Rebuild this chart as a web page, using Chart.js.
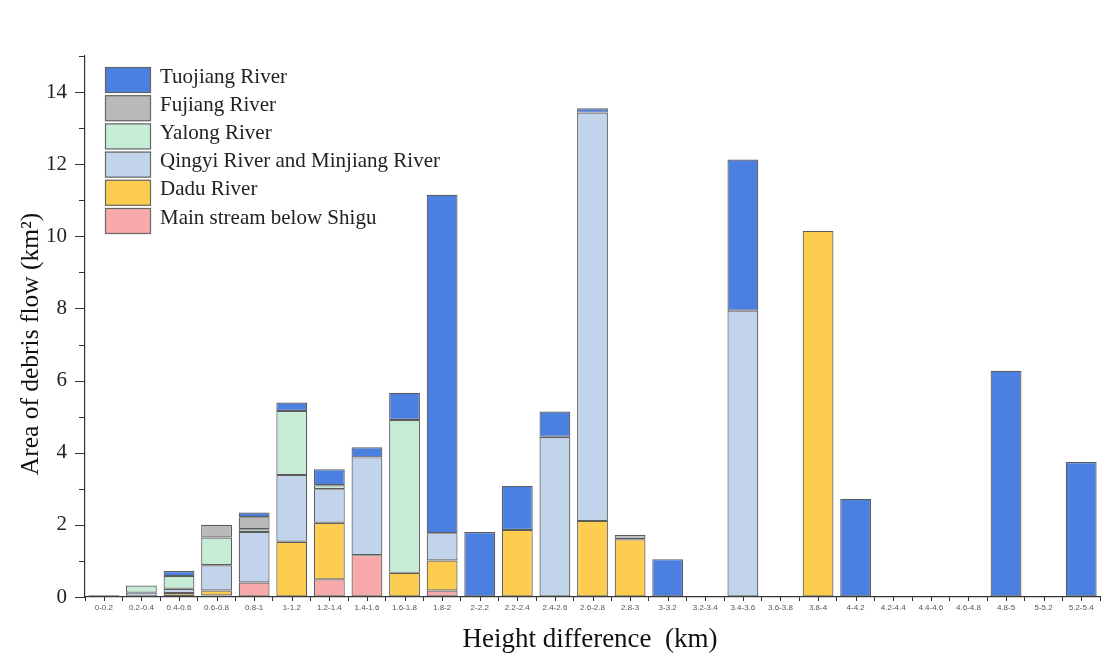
<!DOCTYPE html>
<html>
<head>
<meta charset="utf-8">
<script src="https://cdn.jsdelivr.net/npm/chart.js@4/dist/chart.umd.min.js"></script>
<style>
  html, body { margin: 0; padding: 0; background: #fff; }
  #wrap { width: 1119px; height: 654px; position: relative; }
</style>
</head>
<body>
<div id="wrap"><canvas id="barChart" width="1119" height="654"></canvas></div>
<script>
var categories = ['0-0.2', '0.2-0.4', '0.4-0.6', '0.6-0.8', '0.8-1', '1-1.2', '1.2-1.4', '1.4-1.6', '1.6-1.8', '1.8-2',
    '2-2.2', '2.2-2.4', '2.4-2.6', '2.6-2.8', '2.8-3', '3-3.2', '3.2-3.4', '3.4-3.6', '3.6-3.8', '3.8-4',
    '4-4.2', '4.2-4.4', '4.4-4.6', '4.6-4.8', '4.8-5', '5-5.2', '5.2-5.4'];

// stacked bottom to top
var mainStream = [0, 0, 0.03, 0.04, 0.4, 0, 0.49, 1.16, 0, 0.18, 0, 0, 0, 0, 0, 0, 0, 0, 0, 0, 0, 0, 0, 0, 0, 0, 0];
var dadu = [0, 0, 0.08, 0.14, 0, 1.53, 1.57, 0, 0.67, 0.83, 0, 1.86, 0, 2.11, 1.6, 0, 0, 0, 0, 10.15, 0, 0, 0, 0, 0, 0, 0];
var qingyi = [0.05, 0.12, 0.12, 0.7, 1.4, 1.85, 0.93, 2.71, 0, 0.76, 0, 0, 4.44, 11.32, 0, 0, 0, 7.94, 0, 0, 0, 0, 0, 0, 0, 0, 0];
var yalong = [0, 0.2, 0.35, 0.77, 0.08, 1.78, 0.11, 0, 4.24, 0, 0, 0, 0, 0, 0, 0, 0, 0, 0, 0, 0, 0, 0, 0, 0, 0, 0];
var fujiang = [0, 0, 0, 0.35, 0.33, 0, 0, 0, 0, 0, 0, 0, 0, 0, 0.12, 0, 0, 0, 0, 0, 0, 0, 0, 0, 0, 0, 0];
var tuojiang = [0, 0, 0.14, 0, 0.13, 0.23, 0.44, 0.28, 0.75, 9.38, 1.8, 1.22, 0.7, 0.12, 0, 1.05, 0, 4.19, 0, 0, 2.72, 0, 0, 0, 6.27, 0, 3.74];

var yTicks = [0, 2, 4, 6, 8, 10, 12, 14];

var series = [
    { label: 'Main stream below Shigu', data: mainStream, color: '#f8a9ab' },
    { label: 'Dadu River', data: dadu, color: '#fccd4e' },
    { label: 'Qingyi River and Minjiang River', data: qingyi, color: '#c1d4ec' },
    { label: 'Yalong River', data: yalong, color: '#c6ecd6' },
    { label: 'Fujiang River', data: fujiang, color: '#bababa' },
    { label: 'Tuojiang River', data: tuojiang, color: '#4b7fe0' }
];

var serif = "'Liberation Serif', 'DejaVu Serif', serif";

// legend drawn inside the plot, top-left, topmost series first
var boxLegend = {
    id: 'boxLegend',
    afterDraw: function (chart) {
        var ctx = chart.ctx;
        var items = chart.data.datasets.slice().reverse();
        ctx.save();
        ctx.font = '21px ' + serif;
        ctx.textBaseline = 'middle';
        items.forEach(function (ds, i) {
            var y = 67 + i * 28.2;
            ctx.fillStyle = ds.backgroundColor;
            ctx.fillRect(105, y, 46, 26);
            ctx.strokeStyle = '#666';
            ctx.lineWidth = 1.2;
            ctx.strokeRect(105.5, y + 0.5, 45, 25);
            ctx.fillStyle = '#222';
            ctx.fillText(ds.label, 160, y + 10);
        });
        ctx.restore();
    }
};

// tick marks (centre ticks on x, major/minor on y) and both axis titles
var axisExtras = {
    id: 'axisExtras',
    afterDraw: function (chart) {
        var ctx = chart.ctx;
        var x = chart.scales.x;
        var y = chart.scales.y;
        ctx.save();
        ctx.strokeStyle = '#333';
        ctx.lineWidth = 1;
        categories.forEach(function (c, i) {
            var px = Math.round(x.getPixelForValue(i)) + 0.5;
            ctx.beginPath();
            ctx.moveTo(px, x.top);
            ctx.lineTo(px, x.top + 4);
            ctx.stroke();
        });
        for (var v = 0; v <= 15; v++) {
            var py = Math.round(y.getPixelForValue(v)) + 0.5;
            var len = v % 2 === 0 ? 10 : 6;
            ctx.beginPath();
            ctx.moveTo(y.right - len, py);
            ctx.lineTo(y.right, py);
            ctx.stroke();
        }
        ctx.fillStyle = '#111';
        ctx.textAlign = 'center';
        ctx.textBaseline = 'middle';
        ctx.font = '27px ' + serif;
        ctx.fillText('Height difference  (km)', 590, 640);
        ctx.translate(31, 344);
        ctx.rotate(-Math.PI / 2);
        ctx.font = '25.5px ' + serif;
        ctx.fillText('Area of debris flow (km\u00b2)', 0, 0);
        ctx.restore();
    }
};

var ctx = document.getElementById('barChart').getContext('2d');
var chart = new Chart(ctx, {
    type: 'bar',
    data: {
        labels: categories,
        datasets: series.map(function (s) {
            return {
                label: s.label,
                data: s.data.map(function (v) { return v === 0 ? null : v; }),
                backgroundColor: s.color,
                borderColor: '#5c5c5c',
                borderWidth: 1.2,
                borderSkipped: false,
                categoryPercentage: 1,
                barPercentage: 0.82
            };
        })
    },
    options: {
        responsive: false,
        animation: false,
        layout: { padding: { left: 0, right: 19, top: 56, bottom: 0 } },
        plugins: {
            legend: { display: false },
            tooltip: { enabled: false }
        },
        scales: {
            x: {
                stacked: true,
                grid: { drawOnChartArea: false, drawTicks: true, tickLength: 4, color: '#333', offset: true },
                border: { color: '#333', width: 1.2 },
                ticks: {
                    autoSkip: false,
                    maxRotation: 0,
                    minRotation: 0,
                    padding: 2,
                    color: '#555',
                    font: { family: "'Liberation Sans', Arial, sans-serif", size: 8 }
                },
                afterFit: function (scale) { scale.height = 57; }
            },
            y: {
                stacked: true,
                min: 0,
                max: 15,
                grid: { drawOnChartArea: false, drawTicks: false },
                border: { color: '#333', width: 1.2 },
                ticks: {
                    stepSize: 1,
                    color: '#222',
                    padding: 18,
                    font: { family: serif, size: 21 },
                    callback: function (v) { return yTicks.indexOf(v) >= 0 ? v : ''; }
                },
                afterFit: function (scale) { scale.width = 85; }
            }
        }
    },
    plugins: [boxLegend, axisExtras]
});
</script>
</body>
</html>
